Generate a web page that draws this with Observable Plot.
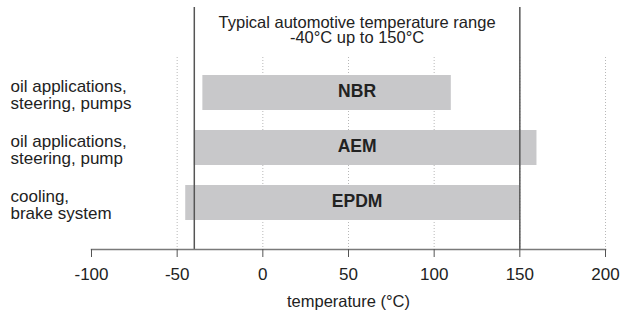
<!DOCTYPE html>
<html><head><meta charset="utf-8">
<script src="https://cdn.jsdelivr.net/npm/d3@7"></script>
<script src="https://cdn.jsdelivr.net/npm/@observablehq/plot@0.6"></script>
<style>body{margin:0;background:#fff}</style>
</head><body><div id="chart"></div>
<script>
const materials = ["NBR", "AEM", "EPDM"];
const applications = ["oil applications,\nsteering, pumps", "oil applications,\nsteering, pump", "cooling,\nbrake system"];
const minTemp = [-35, -40, -45];
const maxTemp = [110, 160, 150];
const automotiveRange = [-40, 150];
const xTicks = [-100, -50, 0, 50, 100, 150, 200];
const gridTicks = [-50, 0, 50, 100, 150, 200];
const annotation = "Typical automotive temperature range\n-40°C up to 150°C";
const xLabel = "temperature (°C)";

const data = materials.map((m, i) => ({material: m, app: applications[i], lo: minTemp[i], hi: maxTemp[i]}));
const mid = (automotiveRange[0] + automotiveRange[1]) / 2;
const font = "'Liberation Sans', Arial, sans-serif";

const chart = Plot.plot({
  width: 631,
  height: 311,
  marginLeft: 91,
  marginRight: 26,
  marginTop: 46,
  marginBottom: 62,
  style: {fontFamily: font, fontSize: "17px", color: "#222", background: "#fff"},
  x: {domain: [-100, 200]},
  y: {domain: materials, paddingInner: 0.364, paddingOuter: 0.527, axis: null},
  marks: [
    Plot.ruleX(gridTicks, {stroke: "#b8b8b8", strokeDasharray: "1,2", strokeWidth: 1, insetTop: 11}),
    Plot.barX(data, {x1: "lo", x2: "hi", y: "material", fill: "#c8c8ca"}),
    Plot.ruleX(automotiveRange, {stroke: "#555", strokeWidth: 1.5, insetTop: -39}),
    Plot.frame({anchor: "bottom", stroke: "#7a7a7a", strokeWidth: 1.5}),
    Plot.axisX({ticks: xTicks, tickFormat: d => String(d), tickSize: 8, tickPadding: 10, stroke: "#555", fontSize: 17, fill: "#222", label: null}),
    Plot.text(data, {x: () => mid, y: "material", text: "material", fontWeight: "bold", fontSize: 17.5, fill: "#222", dy: -2}),
    Plot.text(data, {y: "material", text: "app", frameAnchor: "left", textAnchor: "start", lineAnchor: "middle", dx: -81, dy: 2.3, fontSize: 17, fill: "#222"}),
    Plot.text([annotation], {x: () => mid, frameAnchor: "top", lineAnchor: "middle", dy: -16, lineHeight: 0.9, fontSize: 16.5, fill: "#222"}),
    Plot.text([xLabel], {frameAnchor: "bottom", lineAnchor: "middle", dy: 52, fontSize: 16.5, fill: "#222"})
  ]
});
document.getElementById("chart").appendChild(chart);
</script>
</body></html>
